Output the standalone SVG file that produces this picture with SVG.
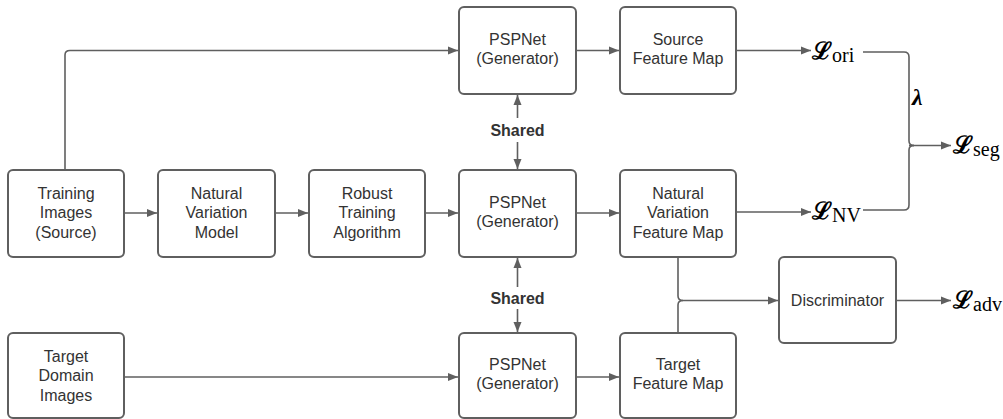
<svg xmlns="http://www.w3.org/2000/svg" width="1003" height="419" viewBox="0 0 1003 419">
<defs>
<marker id="ah" viewBox="0 0 10 10" refX="10" refY="5" markerWidth="10" markerHeight="10" markerUnits="userSpaceOnUse" orient="auto">
<path d="M0,1 L10,5 L0,9 Z" fill="#5f5f5f"/>
</marker>
<style>
.box{fill:#fff;stroke:#5f5f5f;stroke-width:2}
.t{font-family:"Liberation Sans",Arial,sans-serif;font-size:16px;fill:#333;text-anchor:middle}
.b{font-weight:bold}
.c{fill:none;stroke:#5f5f5f;stroke-width:1.6}
.a{marker-end:url(#ah)}
.m{font-family:"Liberation Serif","Times New Roman",serif;fill:#000}
.L{font-family:"DejaVu Serif",serif;font-weight:bold;font-size:24px}
.s{font-size:20px}
</style>
</defs>
<rect width="1003" height="419" fill="#fff"/>
<g id="connectors">
<path class="c a" d="M65,170 V55 Q65,50.5 70,50.5 H458"/>
<path class="c a" d="M124,213 H157"/>
<path class="c a" d="M275,213 H308"/>
<path class="c a" d="M425,213 H458"/>
<path class="c a" d="M576,50.5 H619"/>
<path class="c a" d="M576,213 H619"/>
<path class="c a" d="M124,377 H458"/>
<path class="c a" d="M576,377 H619"/>
<path class="c a" d="M517.5,118 V95"/>
<path class="c a" d="M517.5,142 V169"/>
<path class="c a" d="M517.5,287 V258"/>
<path class="c a" d="M517.5,309 V332"/>
<path class="c a" d="M678,257 V296 Q678,300.5 683,300.5 H778"/>
<path class="c" d="M678,333 V305 Q678,300.5 683,300.5"/>
<path class="c a" d="M896,300.5 H951"/>
<path class="c a" d="M736,50.5 H811"/>
<path class="c a" d="M736,212 H811"/>
<path class="c" d="M863,52 H904 Q909,52 909,57 V141 Q909,145.5 914,145.5"/>
<path class="c" d="M863,210 H904 Q909,210 909,205 V150 Q909,145.5 914,145.5"/>
<path class="c a" d="M909,145.5 H951"/>
</g>
<g id="shared1"><text class="t b" x="517.5" y="135.5">Shared</text></g>
<g id="shared2"><text class="t b" x="517.5" y="303.5">Shared</text></g>
<g id="train"><rect class="box" x="8" y="170" width="116" height="87" rx="5"/>
<text class="t" x="66" y="198.5">Training</text><text class="t" x="66" y="218">Images</text><text class="t" x="66" y="237.5">(Source)</text></g>
<g id="nvm"><rect class="box" x="158" y="170" width="117" height="87" rx="5"/>
<text class="t" x="216.5" y="198.5">Natural</text><text class="t" x="216.5" y="218">Variation</text><text class="t" x="216.5" y="237.5">Model</text></g>
<g id="rta"><rect class="box" x="309" y="170" width="116" height="87" rx="5"/>
<text class="t" x="367" y="198.5">Robust</text><text class="t" x="367" y="218">Training</text><text class="t" x="367" y="237.5">Algorithm</text></g>
<g id="psp1"><rect class="box" x="459" y="7" width="117" height="87" rx="5"/>
<text class="t" x="517.5" y="44.5">PSPNet</text><text class="t" x="517.5" y="64">(Generator)</text></g>
<g id="sfm"><rect class="box" x="620" y="7" width="116" height="87" rx="5"/>
<text class="t" x="678" y="44.5">Source</text><text class="t" x="678" y="64">Feature Map</text></g>
<g id="psp2"><rect class="box" x="459" y="170" width="117" height="87" rx="5"/>
<text class="t" x="517.5" y="207.5">PSPNet</text><text class="t" x="517.5" y="227">(Generator)</text></g>
<g id="nvfm"><rect class="box" x="620" y="170" width="116" height="87" rx="5"/>
<text class="t" x="678" y="198.5">Natural</text><text class="t" x="678" y="218">Variation</text><text class="t" x="678" y="237.5">Feature Map</text></g>
<g id="tdi"><rect class="box" x="8" y="333" width="116" height="85" rx="5"/>
<text class="t" x="66" y="361.5">Target</text><text class="t" x="66" y="381">Domain</text><text class="t" x="66" y="400.5">Images</text></g>
<g id="psp3"><rect class="box" x="459" y="333" width="117" height="85" rx="5"/>
<text class="t" x="517.5" y="369.5">PSPNet</text><text class="t" x="517.5" y="389">(Generator)</text></g>
<g id="tfm"><rect class="box" x="620" y="333" width="116" height="85" rx="5"/>
<text class="t" x="678" y="369.5">Target</text><text class="t" x="678" y="389">Feature Map</text></g>
<g id="disc"><rect class="box" x="779" y="257" width="117" height="86" rx="5"/>
<text class="t" x="837.5" y="305.5">Discriminator</text></g>
<g id="l_ori"><text class="m" x="812" y="59"><tspan class="L">ℒ</tspan><tspan class="s" dy="3">ori</tspan></text></g>
<g id="l_nv"><text class="m" x="812" y="219"><tspan class="L">ℒ</tspan><tspan class="s" dy="3">NV</tspan></text></g>
<g id="l_seg"><text class="m" x="953" y="153"><tspan class="L">ℒ</tspan><tspan class="s" dy="3">seg</tspan></text></g>
<g id="l_adv"><text class="m" x="953" y="308"><tspan class="L">ℒ</tspan><tspan class="s" dy="3">adv</tspan></text></g>
<g id="lambda"><text class="m" x="912" y="105" style="font-size:24px;font-style:italic;font-weight:bold">λ</text></g>
</svg>
